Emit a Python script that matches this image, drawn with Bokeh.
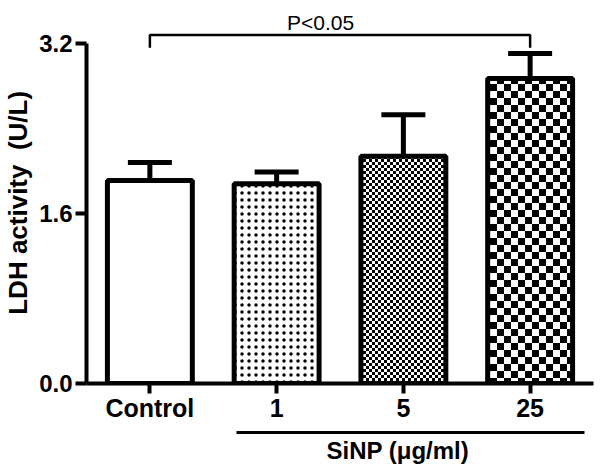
import base64
from bokeh.plotting import figure
from bokeh.models import (Range1d, FixedTicker, LinearAxis, Whisker, TeeHead,
                          ColumnDataSource, Label, ImageURLTexture, Title)
from bokeh.embed import file_html
from bokeh.resources import INLINE

# ---- data ----
categories = ["Control", "1", "5", "25"]
ldh_mean = [1.91, 1.88, 2.14, 2.87]
ldh_err = [0.17, 0.11, 0.39, 0.235]
patterns = ["blank", "dot", "chk_fine", "chk_coarse"]
y_ticks = [0.0, 1.6, 3.2]
y_tick_labels = ["0.0", "1.6", "3.2"]
sig_pair = ["Control", "25"]
sig_text = "P<0.05"
sig_level = 3.28
sig_drop = 3.16
group_label = "SiNP (\u03bcg/ml)"
y_label = "LDH activity\u00a0\u00a0(U/L)"

FONT = "Liberation Sans"

# category centres on a numeric scale (one unit per category)
xpos = [i + 0.5 for i in range(len(categories))]
xof = dict(zip(categories, xpos))


def checker(sq):
    n = 2 * sq
    svg = (f"<svg xmlns='http://www.w3.org/2000/svg' width='{n}' height='{n}' shape-rendering='crispEdges'>"
           f"<rect width='{n}' height='{n}' fill='white'/>"
           f"<rect width='{sq}' height='{sq}' fill='black'/>"
           f"<rect x='{sq}' y='{sq}' width='{sq}' height='{sq}' fill='black'/></svg>")
    return "data:image/svg+xml;base64," + base64.b64encode(svg.encode()).decode()


p = figure(x_range=Range1d(0, len(categories)), y_range=Range1d(0, 3.605), width=598, height=470,
           output_backend="svg", toolbar_location=None,
           min_border_left=82, min_border_right=5, min_border_top=0, min_border_bottom=87)
p.outline_line_color = None
p.xgrid.grid_line_color = None
p.ygrid.grid_line_color = None

src = ColumnDataSource(dict(x=xpos, top=ldh_mean,
                            upper=[m + e for m, e in zip(ldh_mean, ldh_err)],
                            pat=patterns))

p.vbar(x="x", top="top", width=0.67, source=src, fill_color="white",
       line_color="black", line_width=5, hatch_pattern="pat", hatch_color="black",
       hatch_scale=7, hatch_weight=1.6,
       hatch_extra={"chk_fine": ImageURLTexture(url=checker(3)),
                    "chk_coarse": ImageURLTexture(url=checker(7))})

wh = Whisker(base="x", lower="top", upper="upper", source=src, line_width=5,
             line_color="black", dimension="height",
             upper_head=TeeHead(size=44, line_width=5, line_color="black"),
             lower_head=None, level="glyph")
p.add_layout(wh)

# significance bracket
x0, x1 = xof[sig_pair[0]], xof[sig_pair[1]]
p.line(x=[x0, x0, x1, x1], y=[sig_drop, sig_level, sig_level, sig_drop],
       line_color="black", line_width=2.5)
p.add_layout(Label(x=1.847, y=3.40, text=sig_text,
                   text_font=FONT, text_font_size="21px", text_align="center",
                   text_baseline="alphabetic", text_color="black"))

# y axis
ya = p.yaxis[0]
ya.ticker = FixedTicker(ticks=y_ticks)
ya.major_label_overrides = {t: l for t, l in zip(y_ticks, y_tick_labels)}
ya.bounds = (0, 3.2)
ya.axis_line_width = 4
ya.major_tick_line_width = 4
ya.major_tick_out = 11
ya.major_tick_in = 0
ya.minor_tick_line_color = None
ya.major_label_text_font = FONT
ya.major_label_text_font_size = "24px"
ya.major_label_text_font_style = "bold"
ya.major_label_text_color = "black"
ya.major_label_standoff = 3
ya.axis_label = y_label + "\u00a0\u00a0\u00a0"
ya.axis_label_text_font = FONT
ya.axis_label_text_font_size = "26px"
ya.axis_label_text_font_style = "bold"
ya.axis_label_text_color = "black"
ya.axis_label_standoff = 3

# x axis
xa = p.xaxis[0]
xa.ticker = FixedTicker(ticks=xpos)
xa.major_label_overrides = {x: c for x, c in zip(xpos, categories)}
xa.axis_line_width = 4
xa.major_tick_line_width = 4
xa.major_tick_out = 10
xa.major_tick_in = 0
xa.minor_tick_line_color = None
xa.major_label_text_font = FONT
xa.major_label_text_font_size = "25px"
xa.major_label_text_font_style = "bold"
xa.major_label_text_color = "black"
xa.major_label_standoff = 0
xa.axis_label = " "
xa.axis_label_text_font_size = "1px"
xa.axis_label_standoff = 4

# group line under dose categories
ga = LinearAxis(ticker=FixedTicker(ticks=[]), bounds=(1.18, 3.93))
ga.axis_line_width = 3
ga.major_tick_out = 0
ga.major_tick_in = 0
ga.minor_tick_out = 0
ga.minor_tick_in = 0
ga.major_label_text_font_size = "0px"
p.add_layout(ga, "below")

p.add_layout(Title(text=group_label, align="left", offset=240, vertical_align="top",
                   standoff=8, text_font=FONT, text_font_size="24px",
                   text_font_style="bold", text_color="black"), "below")

open("out.html", "w").write(file_html(p, INLINE))
